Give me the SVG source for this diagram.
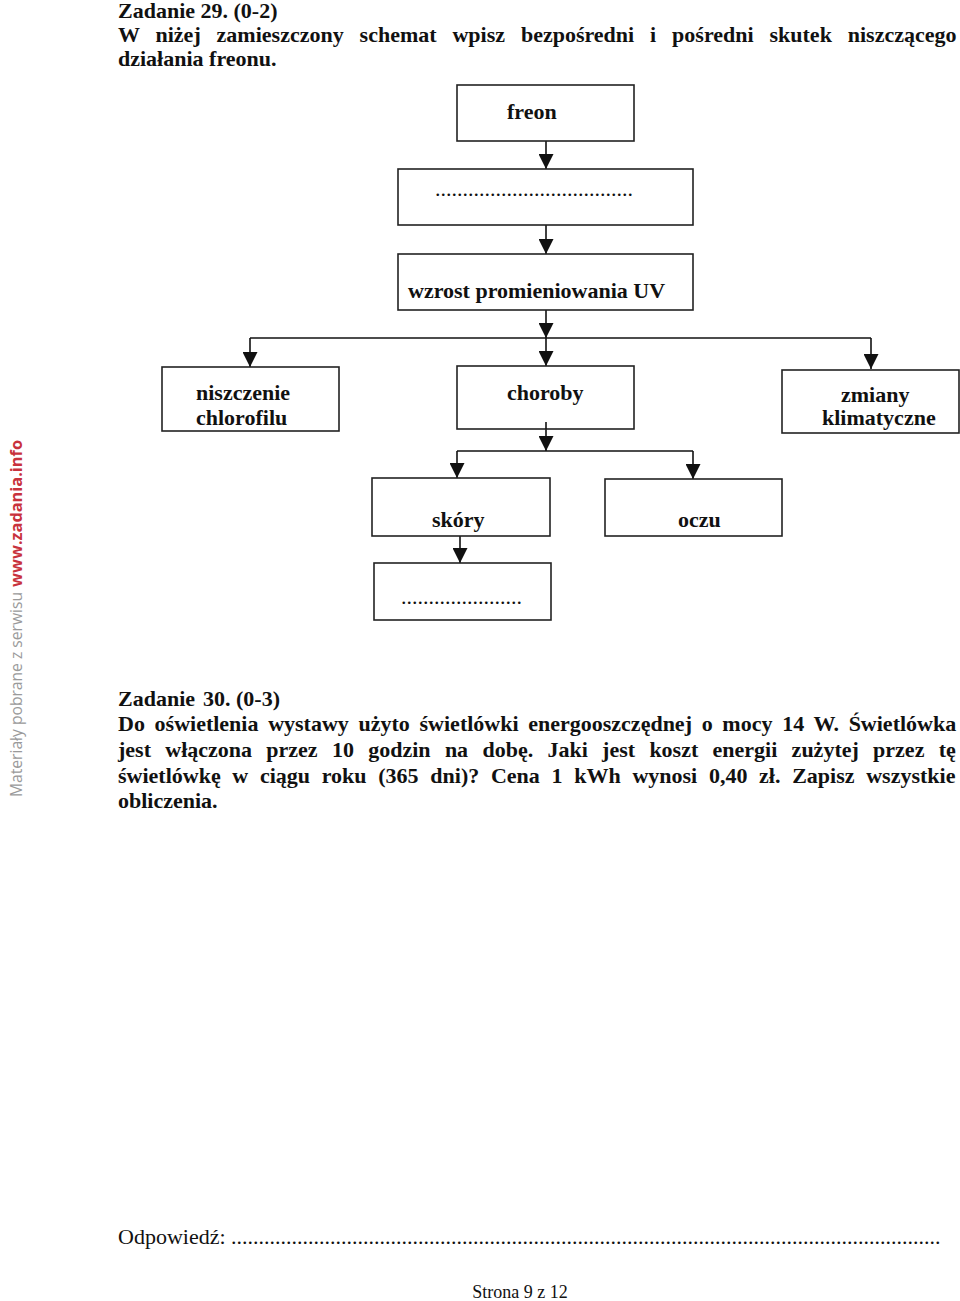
<svg xmlns="http://www.w3.org/2000/svg" width="960" height="1301" viewBox="0 0 960 1301">
<style>
.b{font-family:"Liberation Serif","Times New Roman",serif;font-weight:bold;font-size:22px;fill:#111}
.r{font-family:"Liberation Serif","Times New Roman",serif;font-size:22px;fill:#111}
.box{fill:#fff;stroke:#222;stroke-width:1.6}
.ln{fill:none;stroke:#111;stroke-width:1.6}
.wm{font-family:"Open Sans","Noto Sans",sans-serif;font-size:16px}
</style>
<defs>
<marker id="ah" markerUnits="userSpaceOnUse" markerWidth="15" markerHeight="15" viewBox="0 0 15 15" refX="15" refY="7.5" orient="auto">
<path d="M0,0 L15,7.5 L0,15 z" fill="#111"/>
</marker>
</defs>
<rect width="960" height="1301" fill="#fff"/>

<g id="watermark">
<text class="wm" transform="translate(22,797) rotate(-90)" fill="#9a9a9a" textLength="205" lengthAdjust="spacingAndGlyphs">Materiały pobrane z serwisu</text>
<text class="wm" transform="translate(22,587) rotate(-90)" fill="#c8323c" font-weight="bold" textLength="147" lengthAdjust="spacingAndGlyphs">www.zadania.info</text>
</g>

<g id="header29">
<text class="b" x="118" y="18">Zadanie 29. (0-2)</text>
<text class="b" x="118" y="42" word-spacing="10.4">W niżej zamieszczony schemat wpisz bezpośredni i pośredni skutek niszczącego</text>
<text class="b" x="118" y="66">działania freonu.</text>
</g>

<g id="connectors">
<path class="ln" d="M546,141 V169" marker-end="url(#ah)"/>
<path class="ln" d="M546,225 V254" marker-end="url(#ah)"/>
<path class="ln" d="M546,310 V338" marker-end="url(#ah)"/>
<path class="ln" d="M546,338 V366" marker-end="url(#ah)"/>
<path class="ln" d="M250,338 H871"/>
<path class="ln" d="M250,338 V367" marker-end="url(#ah)"/>
<path class="ln" d="M871,338 V369" marker-end="url(#ah)"/>
<path class="ln" d="M546,422 V451" marker-end="url(#ah)"/>
<path class="ln" d="M457,451 H693"/>
<path class="ln" d="M457,451 V478" marker-end="url(#ah)"/>
<path class="ln" d="M693,451 V479" marker-end="url(#ah)"/>
<path class="ln" d="M460,536 V563" marker-end="url(#ah)"/>
</g>

<g id="n-freon">
<rect class="box" x="457" y="85" width="177" height="56"/>
<text class="b" x="507" y="119">freon</text>
</g>
<g id="n-blank1">
<rect class="box" x="398" y="169" width="295" height="56"/>
<text class="r" x="435" y="196">....................................</text>
</g>
<g id="n-uv">
<rect class="box" x="398" y="254" width="295" height="56"/>
<text class="b" x="408" y="298">wzrost promieniowania UV</text>
</g>
<g id="n-chlorofil">
<rect class="box" x="162" y="367" width="177" height="64"/>
<text class="b" x="196" y="400">niszczenie</text>
<text class="b" x="196" y="425">chlorofilu</text>
</g>
<g id="n-choroby">
<rect class="box" x="457" y="366" width="177" height="63"/>
<text class="b" x="507" y="400">choroby</text>
</g>
<path class="ln" d="M546,422 V429"/>
<g id="n-klimat">
<rect class="box" x="782" y="370" width="177" height="63"/>
<text class="b" x="841" y="402">zmiany</text>
<text class="b" x="822" y="425">klimatyczne</text>
</g>
<g id="n-skory">
<rect class="box" x="372" y="478" width="178" height="58"/>
<text class="b" x="432" y="527">skóry</text>
</g>
<g id="n-oczu">
<rect class="box" x="605" y="479" width="177" height="57"/>
<text class="b" x="678" y="527">oczu</text>
</g>
<g id="n-blank2">
<rect class="box" x="374" y="563" width="177" height="57"/>
<text class="r" x="401" y="604">......................</text>
</g>

<g id="task30">
<text class="b" x="118" y="706">Zadanie<tspan x="203">30. (0-3)</tspan></text>
<text class="b" x="118" y="731" word-spacing="4.2">Do oświetlenia wystawy użyto świetlówki energooszczędnej o mocy 14 W. Świetlówka</text>
<text class="b" x="118" y="757" word-spacing="8.8">jest włączona przez 10 godzin na dobę. Jaki jest koszt energii zużytej przez tę</text>
<text class="b" x="118" y="783" word-spacing="6.2">świetlówkę w ciągu roku (365 dni)? Cena 1 kWh wynosi 0,40 zł. Zapisz wszystkie</text>
<text class="b" x="118" y="808">obliczenia.</text>
</g>

<g id="answer">
<text class="r" x="118" y="1244">Odpowiedź: .................................................................................................................................</text>
</g>
<g id="footer">
<text class="r" x="520" y="1298" style="font-size:18px" text-anchor="middle">Strona 9 z 12</text>
</g>
</svg>
